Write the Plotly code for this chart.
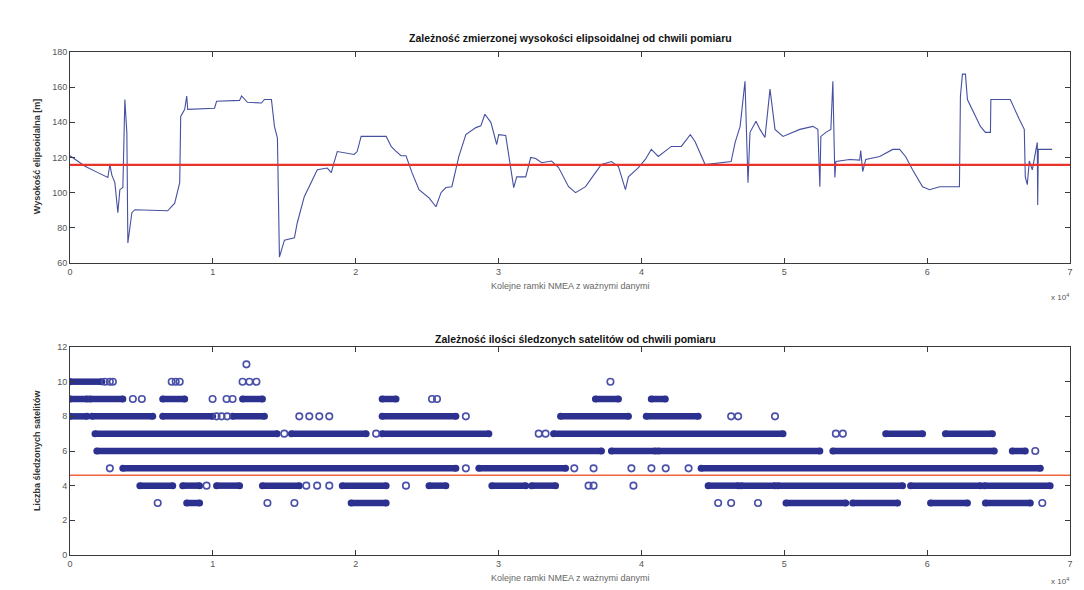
import plotly.graph_objects as go

# ---- Ellipsoidal height vs. NMEA frame index ----
frame_idx = [
    0, 350, 1050, 1950, 2650, 2790, 2930, 3140, 3350, 3490, 3700, 3840, 3980, 4050,
    4330, 4540, 6840, 7330, 7680, 7750, 8030, 8170, 8240, 10120, 10260, 11870, 12010,
    12420, 13400, 13610, 14100, 14310, 14520, 14660, 15010, 15710, 15910, 16400, 17310,
    18010, 18290, 18500, 18710, 19890, 20100, 20380, 22130, 22260, 22480, 22750, 23170,
    23520, 23940, 24430, 25130, 25620, 25970, 26310, 26730, 27220, 27710, 28410, 28760,
    29040, 29460, 29870, 30010, 30500, 30710, 31060, 31270, 31900, 32250, 32600, 33020,
    33710, 34200, 34900, 35390, 36090, 36780, 37200, 37900, 38390, 38880, 39090, 39790,
    40270, 40690, 41180, 42090, 42790, 43420, 43760, 44460, 45860, 46280, 46560, 46910,
    47250, 47320, 47460, 47600, 48020, 48300, 48650, 49000, 49350, 49910, 51090, 52000,
    52350, 52490, 52560, 52910, 53260, 53400, 53540, 53610, 54580, 55280, 55350, 55490,
    55700, 56680, 57590, 58070, 58490, 58980, 59680, 60170, 60870, 62260, 62300, 62330,
    62470, 62680, 62820, 63170, 63730, 64080, 64430, 64460, 65820, 66450, 66800, 66870,
    67010, 67150, 67360, 67710, 67740, 67780, 68750,
]
height_m = [
    121.0, 118.9, 115.0, 111.4, 108.6, 116.0, 110.0, 105.7, 88.6, 101.7, 103.0, 153.0,
    134.0, 71.4, 88.6, 90.3, 89.7, 94.0, 105.7, 143.4, 147.4, 155.0, 147.4, 148.0, 152.0,
    152.5, 155.0, 151.4, 151.0, 153.0, 153.0, 137.7, 131.0, 63.4, 73.0, 74.3, 82.9, 97.7,
    113.0, 114.0, 111.4, 117.7, 123.4, 121.7, 123.4, 132.0, 132.0, 130.0, 126.3, 124.0,
    121.0, 121.0, 111.4, 101.7, 97.0, 92.0, 100.0, 102.9, 103.4, 120.6, 133.0, 137.0,
    138.0, 144.6, 140.0, 127.4, 133.0, 132.5, 120.6, 102.9, 109.0, 109.0, 120.0, 119.4,
    117.0, 118.0, 114.3, 103.4, 100.0, 103.4, 111.4, 116.0, 117.7, 114.9, 101.7, 109.0,
    114.3, 118.9, 124.6, 120.6, 126.3, 126.3, 133.0, 129.0, 116.0, 117.0, 117.7, 128.6,
    137.7, 163.4, 140.0, 105.7, 134.3, 140.6, 136.0, 131.4, 158.9, 136.0, 132.0, 136.0,
    137.7, 136.0, 103.4, 132.0, 134.3, 136.0, 163.4, 108.6, 117.7, 118.9, 118.5, 124.0,
    112.0, 118.9, 120.6, 124.6, 124.6, 120.6, 113.0, 103.4, 101.7, 103.4, 103.4, 153.0,
    155.0, 167.4, 167.4, 153.0, 147.4, 137.7, 134.3, 134.3, 153.0, 153.0, 141.7, 136.0,
    109.0, 104.6, 118.0, 113.0, 128.6, 93.0, 124.6, 124.6,
]
mean_height = 115.8

# ---- Number of tracked satellites vs. NMEA frame index ----
# continuous runs of frames at a given satellite count: (first frame, last frame)
sat_runs = {
    10: [(0, 2230)],
    9: [(0, 1190), (1400, 3700), (6490, 8030), (12080, 13470), (21850, 22820),
        (36780, 38390), (40690, 41670)],
    8: [(0, 1190), (1540, 5790), (6490, 9980), (11380, 13610), (21850, 27010),
        (34340, 39090), (40340, 43970)],
    7: [(1750, 14500), (15500, 20730), (21850, 29320), (33850, 49910), (57100, 59680),
        (61280, 64570)],
    6: [(1880, 37200), (37900, 40970), (41180, 52490), (53400, 64700), (65960, 66870)],
    5: [(3700, 27010), (28620, 34690), (44180, 67920)],
    4: [(4890, 7190), (7890, 9070), (10260, 11870), (13470, 16050), (19060, 22130),
        (25130, 26310), (29530, 31900), (32320, 33990), (44670, 46770), (46980, 49350),
        (49560, 58280), (58840, 63730), (64010, 68610)],
    3: [(8170, 9070), (19680, 22130), (50120, 54300), (54790, 57930), (60240, 62820),
        (64080, 67220)],
}
# isolated frames at a given satellite count
sat_single = {
    11: [12350],
    10: [2440, 2790, 3000, 7120, 7400, 7680, 12080, 12560, 13050, 37830],
    9: [4400, 5030, 9980, 10960, 11380, 25340, 25690],
    8: [10260, 10610, 11000, 16050, 16750, 17450, 18150, 27710, 46280, 46770, 49350],
    7: [15000, 21430, 32810, 33290, 53610, 54100],
    6: [67570],
    5: [2790, 27710, 35300, 36650, 39300, 40700, 41700, 43300],
    4: [9560, 16540, 17300, 18150, 23520, 36300, 36650, 39440],
    3: [6140, 13820, 15710, 45370, 46280, 48160, 68060],
}
mean_sats = 4.6

tick_vals = [0, 10000, 20000, 30000, 40000, 50000, 60000, 70000]
tick_text = ["0", "1", "2", "3", "4", "5", "6", "7"]

title_top = "Zależność zmierzonej wysokości elipsoidalnej od chwili pomiaru"
title_bottom = "Zależność ilości śledzonych satelitów od chwili pomiaru"
x_label = "Kolejne ramki NMEA z ważnymi danymi"
y_label_top = "Wysokość elipsoidalna [m]"
y_label_bottom = "Liczba śledzonych satelitów"

FONT = "Liberation Sans, Arial, sans-serif"
LINE_BLUE = "#4650a0"
DOT_BLUE = "#2c308f"
RED = "#e8322a"

fig = go.Figure()

# height trace
fig.add_trace(go.Scatter(x=frame_idx, y=height_m, mode="lines",
                         line=dict(color=LINE_BLUE, width=1.1),
                         xaxis="x", yaxis="y", hoverinfo="skip"))
fig.add_trace(go.Scatter(x=[0, 70000], y=[mean_height, mean_height], mode="lines",
                         line=dict(color=RED, width=2.2),
                         xaxis="x", yaxis="y", hoverinfo="skip"))

# satellite bands
run_x, run_y = [], []
for level, runs in sat_runs.items():
    for a, b in runs:
        run_x += [a, b, None]
        run_y += [level, level, None]
fig.add_trace(go.Scatter(x=run_x, y=run_y, mode="lines+markers",
                         line=dict(color=DOT_BLUE, width=6.5),
                         marker=dict(symbol="circle", size=7, color=DOT_BLUE),
                         xaxis="x2", yaxis="y2", hoverinfo="skip"))
single_x, single_y = [], []
for level, pts in sat_single.items():
    single_x += pts
    single_y += [level] * len(pts)
fig.add_trace(go.Scatter(x=single_x, y=single_y, mode="markers",
                         marker=dict(symbol="circle-open", size=6.5,
                                     color="#4a4fa8", line=dict(width=1.6)),
                         xaxis="x2", yaxis="y2", hoverinfo="skip"))
fig.add_trace(go.Scatter(x=[0, 70000], y=[mean_sats, mean_sats], mode="lines",
                         line=dict(color="#f0643a", width=1.6),
                         xaxis="x2", yaxis="y2", hoverinfo="skip"))

axis_common = dict(showline=True, linecolor="#3a3a3a", linewidth=1, mirror="ticks",
                   ticks="inside", ticklen=5, tickcolor="#3a3a3a", showgrid=False,
                   zeroline=False, tickfont=dict(family=FONT, size=9, color="#555"))

fig.update_layout(
    width=1084, height=590,
    margin=dict(l=70, r=11, t=52, b=35),
    paper_bgcolor="white", plot_bgcolor="white",
    showlegend=False,
    xaxis=dict(domain=[0, 1], range=[0, 70000], tickvals=tick_vals, ticktext=tick_text,
               anchor="y", **axis_common),
    yaxis=dict(domain=[0.5805, 1], range=[60, 180], tick0=60, dtick=20,
               anchor="x", **axis_common),
    xaxis2=dict(domain=[0, 1], range=[0, 70000], tickvals=tick_vals, ticktext=tick_text,
                anchor="y2", **axis_common),
    yaxis2=dict(domain=[0, 0.4135], range=[0, 12], tick0=0, dtick=2,
                anchor="x2", **axis_common),
)

def label(text, x, y, size, bold=False, angle=0, color="#222", xanchor="center"):
    fig.add_annotation(text=f"<b>{text}</b>" if bold else text, x=x, y=y,
                       xref="paper", yref="paper", showarrow=False, textangle=angle,
                       xanchor=xanchor, yanchor="middle",
                       font=dict(family=FONT, size=size, color=color))

label(title_top, 0.5, 1.028, 10.5, bold=True, color="#111")
label(title_bottom, 0.505, 0.4294, 10.5, bold=True, color="#111")
label(x_label, 0.5, 0.5348, 9, color="#666")
label(x_label, 0.5, -0.0457, 9, color="#666")
label("x 10<sup>4</sup>", 0.99, 0.512, 8, color="#555")
label("x 10<sup>4</sup>", 0.99, -0.052, 8, color="#555")
label(y_label_top, -0.033, 0.791, 9, bold=True, angle=-90, color="#333")
label(y_label_bottom, -0.033, 0.2087, 9, bold=True, angle=-90, color="#333")

fig.write_html("out.html")
